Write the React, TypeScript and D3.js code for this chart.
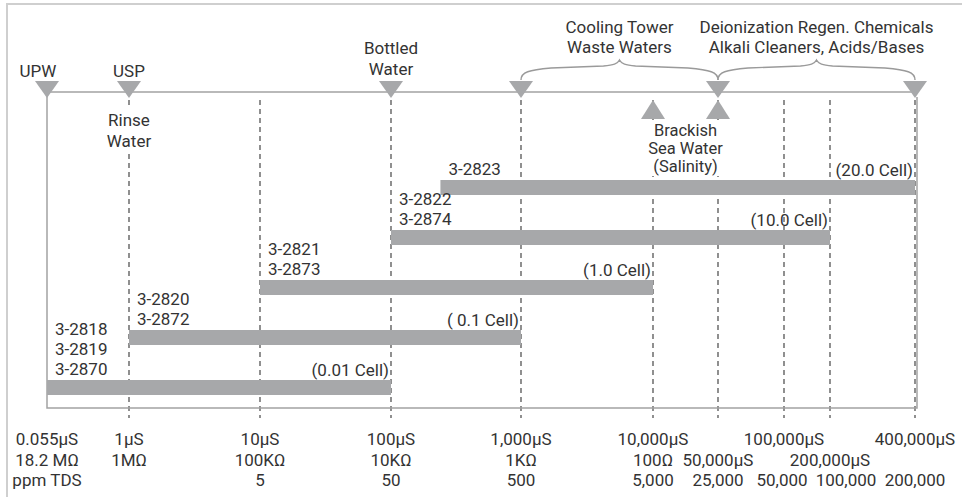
import * as d3 from "d3"

// conductivity scale stops (µS) and the labels printed under each one
const ticks = [0.055, 1, 10, 100, 1000, 10000, 50000, 100000, 200000, 400000]
const siLabels = ["0.055µS", "1µS", "10µS", "100µS", "1,000µS", "10,000µS", "", "100,000µS", "", "400,000µS"]
const ohmLabels = ["18.2 MΩ", "1MΩ", "100KΩ", "10KΩ", "1KΩ", "100Ω", "50,000µS", "", "200,000µS", ""]
const tdsLabels = ["ppm TDS", "", "5", "50", "500", "5,000", "25,000", "50,000", "100,000", "200,000"]

// sensor ranges
const probes = [["3-2823"], ["3-2822", "3-2874"], ["3-2821", "3-2873"], ["3-2820", "3-2872"], ["3-2818", "3-2819", "3-2870"]]
const rangeLow = [240, 100, 10, 1, 0.055]
const rangeHigh = [400000, 200000, 10000, 1000, 100]
const cellLabels = ["(20.0 Cell)", "(10.0 Cell)", "(1.0 Cell)", "( 0.1 Cell)", "(0.01 Cell)"]

// water types marked on the top axis
const downMarks = [0.055, 1, 100, 1000, 50000, 400000]
const upMarks = [10000, 50000]
const braces = [
  { from: 1000, to: 50000, lines: ["Cooling Tower", "Waste Waters"] },
  { from: 50000, to: 400000, lines: ["Deionization Regen. Chemicals", "Alkali Cleaners, Acids/Bases"] },
]
const brackish = ["Brackish", "Sea Water", "(Salinity)"]

const W = 962
const H = 497
const FONT = "Roboto, 'DejaVu Sans', sans-serif"
const TEXT = "#333"
const GREY = "#a7a8aa"
const LINE = "#a2a2a2"

export default function App() {
  // schematic log axis: decades are even, the high end is stretched
  const x = d3
    .scaleLinear()
    .domain(ticks.map(Math.log10))
    .range([47, 129, 260, 391, 521, 653, 718, 784, 830, 915])
  const sx = (v: number) => x(Math.log10(v))

  const y = d3
    .scalePoint<number>()
    .domain(probes.map((_, i) => i))
    .range([180, 380])
  const barH = 15

  const axisY = 92
  const boxBottom = 408
  const tri = (cx: number, tip: number, base: number) =>
    `M${cx - 12},${base}L${cx + 12},${base}L${cx},${tip}Z`

  const bracePath = (x0: number, x1: number) => {
    const xm = (x0 + x1) / 2
    const b = 80
    return (
      `M${x0},${b}C${x0},${b - 8} ${x0 + 8},${b - 10} ${x0 + 30},${b - 12}` +
      `L${xm - 16},${b - 14}C${xm - 6},${b - 15} ${xm - 2},${b - 16} ${xm},${b - 20}` +
      `C${xm + 2},${b - 16} ${xm + 6},${b - 15} ${xm + 16},${b - 14}` +
      `L${x1 - 30},${b - 12}C${x1 - 8},${b - 10} ${x1},${b - 8} ${x1},${b}`
    )
  }

  const lh = 20

  return (
    <svg
      width={W}
      height={H}
      style={{ position: "absolute", left: 0, top: 0, background: "#fff" }}
      fontFamily={FONT}
      fontSize={17}
      fill={TEXT}
    >
      {/* outer frame (only top/left visible) */}
      <rect x={7} y={4} width={W + 20} height={H + 20} fill="#fff" stroke="#cfcfcf" strokeWidth={2} />

      {/* dashed decade lines */}
      {ticks.slice(1).map((t) => (
        <line
          key={t}
          x1={sx(t)}
          x2={sx(t)}
          y1={axisY + 8}
          y2={boxBottom + 10}
          stroke="#555"
          strokeWidth={1.3}
          strokeDasharray="5,4"
        />
      ))}

      {/* inner box */}
      <path
        d={`M${sx(0.055)},${axisY}V${boxBottom}H${sx(400000) + 2}V${axisY + 5}`}
        fill="none"
        stroke={LINE}
        strokeWidth={1.5}
      />
      <line x1={sx(0.055)} x2={sx(400000)} y1={axisY} y2={axisY} stroke={LINE} strokeWidth={1.5} />

      {/* white knock-outs behind annotation text */}
      <rect x={106} y={108} width={46} height={44} fill="#fff" />
      <rect x={638} y={120} width={95} height={56} fill="#fff" />

      {/* braces */}
      {braces.map((b) => (
        <g key={b.from}>
          <path d={bracePath(sx(b.from), sx(b.to))} fill="none" stroke="#9a9a9a" strokeWidth={1.4} />
          {b.lines.map((l, i) => (
            <text key={l} x={(sx(b.from) + sx(b.to)) / 2} y={33 + i * lh} textAnchor="middle">
              {l}
            </text>
          ))}
        </g>
      ))}

      {/* markers */}
      {downMarks.map((m) => (
        <path key={"d" + m} d={tri(sx(m), axisY + 6, axisY - 11)} fill={GREY} />
      ))}
      {upMarks.map((m) => (
        <path key={"u" + m} d={tri(sx(m), 100, 119)} fill={GREY} />
      ))}

      <text x={sx(0.055) - 9} y={77} textAnchor="middle">UPW</text>
      <text x={sx(1)} y={77} textAnchor="middle">USP</text>
      <text x={sx(100)} y={54} textAnchor="middle">Bottled</text>
      <text x={sx(100)} y={54 + 21} textAnchor="middle">Water</text>
      <text x={sx(1)} y={126} textAnchor="middle">Rinse</text>
      <text x={sx(1)} y={147} textAnchor="middle">Water</text>
      {brackish.map((l, i) => (
        <text
          key={l}
          x={(sx(10000) + sx(50000)) / 2}
          y={136 + i * 18}
          textAnchor="middle"
          fontSize={16.5}
        >
          {l}
        </text>
      ))}

      {/* range bars */}
      {probes.map((names, i) => {
        const x0 = sx(rangeLow[i])
        const x1 = sx(rangeHigh[i])
        const top = y(i) as number
        return (
          <g key={names[0]}>
            <rect x={x0} y={top} width={x1 - x0} height={barH} fill={GREY} />
            {names.map((n, j) => (
              <text key={n} x={x0 + 8} y={top - 5 - (names.length - 1 - j) * lh}>
                {n}
              </text>
            ))}
            <text x={x1 - 2} y={top - 4} textAnchor="end">
              {cellLabels[i]}
            </text>
          </g>
        )
      })}

      {/* bottom scale labels */}
      {ticks.map((t, i) => (
        <g key={"l" + t}>
          <text x={sx(t)} y={445} textAnchor="middle">{siLabels[i]}</text>
          <text x={sx(t)} y={466} textAnchor="middle">{ohmLabels[i]}</text>
          <text x={sx(t) + (t === 200000 ? 16 : t === 100000 ? -2 : 0)} y={486} textAnchor="middle">
            {tdsLabels[i]}
          </text>
        </g>
      ))}
    </svg>
  )
}
